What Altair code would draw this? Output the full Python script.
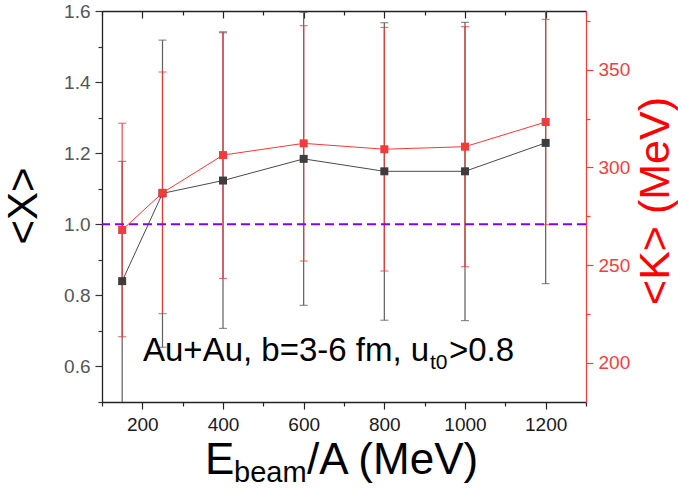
import altair as alt
import pandas as pd

# ---------------- data ----------------
energy = [150, 250, 400, 600, 800, 1000, 1200]            # E_beam/A (MeV)
x_mean = [0.84, 1.087, 1.123, 1.184, 1.149, 1.149, 1.229]  # <X>
x_upper = [1.177, 1.518, 1.539, 1.596, 1.567, 1.568, 1.625]
x_lower = [0.48, 0.654, 0.707, 0.772, 0.730, 0.729, 0.833]
k_mean = [268.0, 287.0, 306.3, 312.3, 309.3, 310.6, 323.2]  # <K> (MeV)
k_upper = [322.6, 348.8, 369.4, 372.5, 371.6, 372.0, 375.7]
k_lower = [213.4, 225.2, 243.2, 252.1, 247.0, 249.2, 270.7]
ref_level = [1.0]

x_domain = [100, 1300]
left_domain = [0.5, 1.6]
right_domain = [180, 380]
x_major = [200, 400, 600, 800, 1000, 1200]
x_minor = [100, 300, 500, 700, 900, 1100, 1300]
left_major = [0.6, 0.8, 1.0, 1.2, 1.4, 1.6]
left_minor = [0.5, 0.7, 0.9, 1.1, 1.3, 1.5]
right_major = [200, 250, 300, 350]
right_minor = [225, 275, 325, 375]

x_title_parts = ["E", "beam", "/A (MeV)"]
left_title = "<X>"
right_title = "<K> (MeV)"
note_parts = ["Au+Au, b=3-6 fm, u", "t0", ">0.8"]

# ---------------- styling ----------------
W, H = 484, 391
FONT = "Liberation Sans"
BLACK_PT = "#3d3d3d"
BLACK_LINE = "#4a4a4a"
BLACK_ERR = "#5e5e5e"
RED_PT = "#f23b3b"
RED_LINE = "#ff3535"
RED_ERR = "#e83a3a"
RED_AXIS = "#ee4040"
PURPLE = "#8000ff"
AX = "#222222"
LABEL_SIZE = 19

df = pd.DataFrame({
    "E": energy, "X": x_mean, "Xlo": x_lower, "Xhi": x_upper,
    "K": k_mean, "Klo": k_lower, "Khi": k_upper,
})
caps_x = pd.DataFrame({"E": energy * 2, "v": x_upper + x_lower})
caps_k = pd.DataFrame({"E": energy * 2, "v": k_upper + k_lower})
ref_df = pd.DataFrame({"r": ref_level})

xscale = alt.Scale(domain=x_domain, nice=False, zero=False)
lscale = alt.Scale(domain=left_domain, nice=False, zero=False)
rscale = alt.Scale(domain=right_domain, nice=False, zero=False)

common = dict(title=None, grid=False, tickWidth=1.2, domainWidth=1.3)

bottom_major = alt.Axis(orient="bottom", values=x_major, format="d", tickSize=7,
                        labelFont=FONT, labelFontSize=LABEL_SIZE, labelColor="#1a1a1a",
                        labelPadding=6, domainColor=AX, tickColor=AX, **common)
bottom_minor = alt.Axis(orient="bottom", values=x_minor, tickSize=4, labels=False,
                        domain=False, tickColor=AX, **common)
top_major = alt.Axis(orient="bottom", offset=-H, values=x_major, tickSize=7, labels=False,
                     domainColor=AX, tickColor=AX, **common)
top_minor = alt.Axis(orient="bottom", offset=-H, values=x_minor, tickSize=4, labels=False,
                     domain=False, tickColor=AX, **common)
left_major_axis = alt.Axis(orient="left", values=left_major, format=".1f", tickSize=7,
                           labelFont=FONT, labelFontSize=LABEL_SIZE, labelColor="#555555",
                           labelPadding=5, domainColor=AX, tickColor="#333333", **common)
left_minor_axis = alt.Axis(orient="left", values=left_minor, tickSize=4, labels=False,
                           domain=False, tickColor="#333333", **common)
right_major_axis = alt.Axis(orient="right", values=right_major, format="d", tickSize=7,
                            labelFont=FONT, labelFontSize=LABEL_SIZE, labelColor=RED_AXIS,
                            labelPadding=5, domainColor=RED_AXIS, tickColor=RED_AXIS, **common)
right_minor_axis = alt.Axis(orient="right", values=right_minor, tickSize=4, labels=False,
                            domain=False, tickColor=RED_AXIS, **common)

base = alt.Chart(df)

# black error bars (left scale)
black_err = base.mark_rule(color=BLACK_ERR, strokeWidth=1.2, clip=True).encode(
    x=alt.X("E:Q", scale=xscale, axis=bottom_major),
    y=alt.Y("Xlo:Q", scale=lscale, axis=left_major_axis),
    y2="Xhi:Q",
)
black_caps = alt.Chart(caps_x).mark_tick(orient="horizontal", size=8, thickness=1.2,
                                         color=BLACK_ERR, clip=True).encode(
    x=alt.X("E:Q", scale=xscale, axis=None),
    y=alt.Y("v:Q", scale=lscale, axis=None),
)

# red error bars (right scale)
red_err = base.mark_rule(color=RED_ERR, strokeWidth=1.2, opacity=0.92, clip=True).encode(
    x=alt.X("E:Q", scale=xscale, axis=bottom_minor),
    y=alt.Y("Klo:Q", scale=rscale, axis=right_major_axis),
    y2="Khi:Q",
)
red_caps = alt.Chart(caps_k).mark_tick(orient="horizontal", size=8, thickness=1.2,
                                       color=RED_ERR, clip=True).encode(
    x=alt.X("E:Q", scale=xscale, axis=None),
    y=alt.Y("v:Q", scale=rscale, axis=None),
)

# purple dashed reference line (carries the left minor ticks)
ref_line = alt.Chart(ref_df).mark_rule(color=PURPLE, strokeWidth=2, strokeDash=[9, 5]).encode(
    y=alt.Y("r:Q", scale=lscale, axis=left_minor_axis),
)

# black line + squares (left scale); the line carries the top frame axis
black_line = base.mark_line(color=BLACK_LINE, strokeWidth=1).encode(
    x=alt.X("E:Q", scale=xscale, axis=top_major),
    y=alt.Y("X:Q", scale=lscale, axis=None),
)
black_pts = base.mark_point(shape="square", filled=True, size=64, color=BLACK_PT, opacity=1).encode(
    x=alt.X("E:Q", scale=xscale, axis=None),
    y=alt.Y("X:Q", scale=lscale, axis=None),
)

# red line + squares (right scale)
red_line = base.mark_line(color=RED_LINE, strokeWidth=1).encode(
    x=alt.X("E:Q", scale=xscale, axis=top_minor),
    y=alt.Y("K:Q", scale=rscale, axis=right_minor_axis),
)
red_pts = base.mark_point(shape="square", filled=True, size=64, color=RED_PT, opacity=1).encode(
    x=alt.X("E:Q", scale=xscale, axis=None),
    y=alt.Y("K:Q", scale=rscale, axis=None),
)


def label(txt, x, y, size, color="black", angle=0, align="left", baseline="alphabetic"):
    return alt.Chart(pd.DataFrame({"t": [txt]})).mark_text(
        font=FONT, fontSize=size, color=color, angle=angle, align=align, baseline=baseline,
    ).encode(x=alt.value(x), y=alt.value(y), text="t:N")


texts = [
    label(x_title_parts[0], 103, 463, 44),
    label(x_title_parts[1], 132, 471, 29),
    label(x_title_parts[2], 205, 463, 44),
    label(left_title, -78, 195, 42, angle=270, align="center", baseline="middle"),
    label(right_title, 554, 190, 43, color="#ff0000", angle=270, align="center", baseline="middle"),
    label(note_parts[0], 41, 350, 33),
    label(note_parts[1], 328, 358, 21),
    label(note_parts[2], 347, 350, 33),
]

chart = alt.layer(
    black_err, black_caps, red_err, red_caps, ref_line,
    black_line, black_pts, red_line, red_pts, *texts
).resolve_scale(
    y="independent"
).resolve_axis(
    x="independent", y="independent"
).properties(
    width=W, height=H,
    autosize=alt.AutoSizeParams(type="none"),
    padding={"left": 102, "top": 11, "right": 92, "bottom": 87},
).configure_view(stroke=None)

chart.save("out.html", embed_options={"renderer": "svg", "actions": False})
